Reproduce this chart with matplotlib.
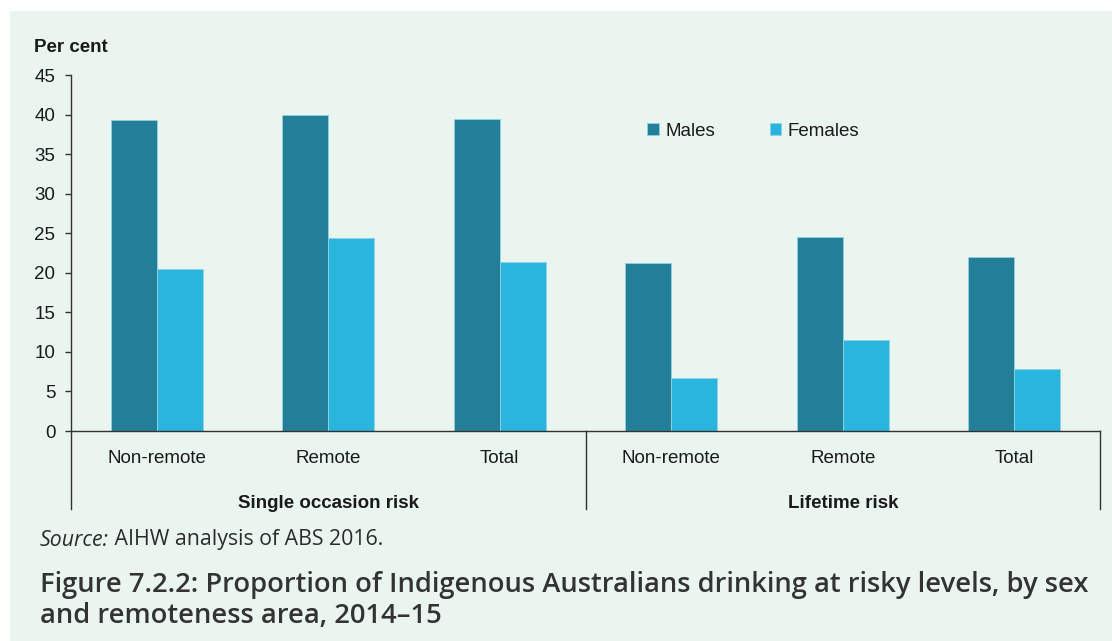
import matplotlib
matplotlib.use("Agg")
import matplotlib.pyplot as plt
import matplotlib.transforms as mtransforms
from matplotlib.patches import Rectangle
import numpy as np

# Dados do gráfico
categorias = ["Non-remote", "Remote", "Total", "Non-remote", "Remote", "Total"]
grupos = ["Single occasion risk", "Lifetime risk"]
homens = [39.3, 39.9, 39.5, 21.2, 24.5, 22.0]
mulheres = [20.5, 24.4, 21.4, 6.7, 11.5, 7.9]
y_ticks = [0, 5, 10, 15, 20, 25, 30, 35, 40, 45]

cor_homens = "#237f97"
cor_mulheres = "#29b5dd"
cor_fundo = "#ebf5f0"
cor_texto = "#1a1a1a"

W, H = 1112, 641
fig = plt.figure(figsize=(W / 100, H / 100), dpi=100, facecolor="white")

# painel de fundo
fig.patches.append(Rectangle((10 / W, 0), 1 - 10 / W, 1 - 11 / H,
                             transform=fig.transFigure, facecolor=cor_fundo,
                             edgecolor="none", zorder=-10))

esq, dir_, base, topo = 71, 1100, 431, 75
ax = fig.add_axes([esq / W, 1 - base / H, (dir_ - esq) / W, (base - topo) / H])
ax.set_facecolor("none")

x = np.arange(len(categorias))
largura = 0.268
ax.bar(x - largura / 2, homens, largura, color=cor_homens, edgecolor="#8fd3e3",
       linewidth=0.6, label="Males", zorder=2)
ax.bar(x + largura / 2, mulheres, largura, color=cor_mulheres, edgecolor="#8fd3e3",
       linewidth=0.6, label="Females", zorder=2)

ax.set_xlim(-0.5, len(categorias) - 0.5)
ax.set_ylim(0, 45)
ax.set_yticks(y_ticks)
ax.set_yticklabels([str(v) for v in y_ticks])

fonte = "Liberation Sans"
for s in ["top", "right"]:
    ax.spines[s].set_visible(False)
for s in ["left", "bottom"]:
    ax.spines[s].set_color("#333333")
    ax.spines[s].set_linewidth(1.0)

ax.tick_params(axis="y", length=4.3, width=1.0, color="#333333", pad=7,
               labelsize=13.5, labelcolor=cor_texto)
ax.set_xticks(x)
ax.set_xticklabels(categorias)
ax.tick_params(axis="x", length=0, pad=14, labelsize=13.5, labelcolor=cor_texto)
for lbl in ax.get_xticklabels() + ax.get_yticklabels():
    lbl.set_fontfamily(fonte)

# linhas divisórias abaixo do eixo
trans = mtransforms.blended_transform_factory(ax.transData, ax.transAxes)
fundo_linha = -(509 - base) / (base - topo)
for xv in [-0.5, 2.5, 5.5]:
    ax.plot([xv, xv], [0, fundo_linha], transform=trans, color="#333333",
            linewidth=1.0, clip_on=False)

# rótulos dos grupos
for i, g in enumerate(grupos):
    ax.text(3 * i + 1, -(503 - base) / (base - topo), g, transform=trans,
            ha="center", va="center", fontsize=13.5, fontweight="bold",
            family=fonte, color=cor_texto)

# título do eixo y
fig.text(34 / W, 1 - 47 / H, "Per cent", ha="left", va="center", fontsize=13.5,
         fontweight="bold", family=fonte, color=cor_texto)

# legenda
leg = fig.legend(loc="center left", bbox_to_anchor=(647 / W, 1 - 131 / H),
                 ncol=2, frameon=False, borderpad=0, borderaxespad=0,
                 handlelength=0.62, handleheight=0.65, handletextpad=0.36,
                 columnspacing=2.9, prop={"family": fonte, "size": 13.5})
for t in leg.get_texts():
    t.set_color(cor_texto)

# fonte e título
fonte2 = "Open Sans"
src1 = fig.text(40 / W, 1 - 540 / H, "Source:", ha="left", va="center",
                fontsize=15.3, style="italic", family=fonte2, color="#2b2b2b")
fig.canvas.draw()
bb = src1.get_window_extent()
fig.text(bb.x1 / W, 1 - 540 / H, " AIHW analysis of ABS 2016.", ha="left",
         va="center", fontsize=15.3, family=fonte2, color="#2b2b2b")

fig.text(40 / W, 1 - 585 / H,
         "Figure 7.2.2: Proportion of Indigenous Australians drinking at risky levels, by sex",
         ha="left", va="center", fontsize=19.7, fontweight="semibold", family=fonte2,
         color="#333333")
fig.text(40 / W, 1 - 616 / H, "and remoteness area, 2014–15",
         ha="left", va="center", fontsize=19.7, fontweight="semibold", family=fonte2,
         color="#333333")

fig.savefig("out.png", dpi=100, facecolor="white")
